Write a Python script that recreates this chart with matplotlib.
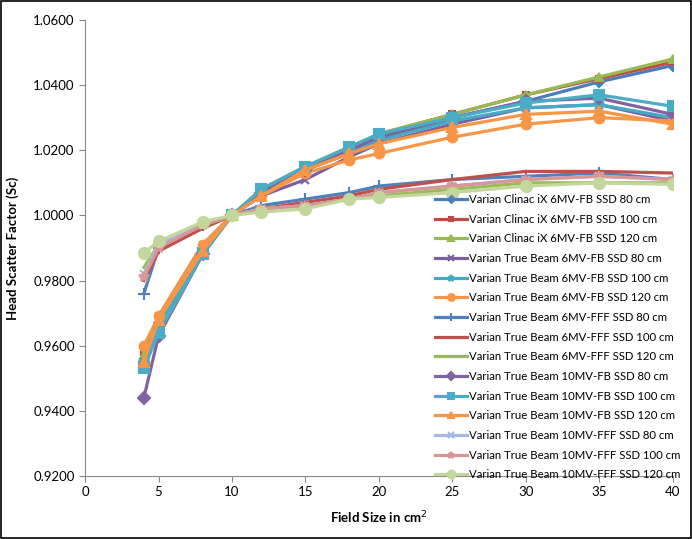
import matplotlib
matplotlib.use("Agg")
import matplotlib.pyplot as plt
from matplotlib.ticker import FormatStrFormatter, MultipleLocator

plt.rcParams['font.family'] = ['Lato', 'DejaVu Sans']

field_size = [4, 5, 8, 10, 12, 15, 18, 20, 25, 30, 35, 40]

labels = [
    "Varian Clinac iX 6MV-FB SSD 80 cm",
    "Varian Clinac iX 6MV-FB SSD 100 cm",
    "Varian Clinac iX 6MV-FB SSD 120 cm",
    "Varian True Beam 6MV-FB SSD 80 cm",
    "Varian True Beam 6MV-FB SSD 100 cm",
    "Varian True Beam 6MV-FB SSD 120 cm",
    "Varian True Beam 6MV-FFF SSD 80 cm",
    "Varian True Beam 6MV-FFF SSD 100 cm",
    "Varian True Beam 6MV-FFF SSD 120 cm",
    "Varian True Beam 10MV-FB SSD 80 cm",
    "Varian True Beam 10MV-FB SSD 100 cm",
    "Varian True Beam 10MV-FB SSD 120 cm",
    "Varian True Beam 10MV-FFF SSD 80 cm",
    "Varian True Beam 10MV-FFF SSD 100 cm",
    "Varian True Beam 10MV-FFF SSD 120 cm",
]

clinac_6fb_80 = [0.955, 0.967, 0.990, 1.000, 1.007, 1.014, 1.019, 1.023, 1.030, 1.035, 1.041, 1.046]
clinac_6fb_100 = [0.958, 0.969, 0.991, 1.000, 1.008, 1.015, 1.020, 1.025, 1.031, 1.037, 1.042, 1.047]
clinac_6fb_120 = [0.957, 0.968, 0.990, 1.000, 1.008, 1.015, 1.021, 1.025, 1.031, 1.037, 1.0425, 1.048]
tb_6fb_80 = [0.955, 0.966, 0.989, 1.000, 1.006, 1.011, 1.018, 1.022, 1.028, 1.033, 1.034, 1.029]
tb_6fb_100 = [0.955, 0.966, 0.989, 1.000, 1.007, 1.014, 1.019, 1.023, 1.029, 1.033, 1.034, 1.030]
tb_6fb_120 = [0.960, 0.969, 0.991, 1.000, 1.006, 1.013, 1.017, 1.019, 1.024, 1.028, 1.030, 1.029]
tb_6fff_80 = [0.976, 0.990, 0.997, 1.000, 1.003, 1.005, 1.007, 1.009, 1.011, 1.012, 1.013, 1.011]
tb_6fff_100 = [0.980, 0.989, 0.996, 1.000, 1.002, 1.004, 1.006, 1.008, 1.011, 1.0135, 1.0135, 1.013]
tb_6fff_120 = [0.984, 0.991, 0.997, 1.000, 1.002, 1.003, 1.005, 1.006, 1.008, 1.010, 1.010, 1.010]
tb_10fb_80 = [0.944, 0.963, 0.988, 1.000, 1.007, 1.014, 1.020, 1.024, 1.030, 1.035, 1.036, 1.031]
tb_10fb_100 = [0.953, 0.964, 0.988, 1.000, 1.008, 1.015, 1.021, 1.025, 1.030, 1.0345, 1.037, 1.0335]
tb_10fb_120 = [0.955, 0.968, 0.989, 1.000, 1.006, 1.014, 1.019, 1.022, 1.027, 1.031, 1.032, 1.028]
tb_10fff_80 = [0.982, 0.991, 0.997, 1.000, 1.002, 1.003, 1.005, 1.007, 1.009, 1.011, 1.012, 1.011]
tb_10fff_100 = [0.981, 0.990, 0.997, 1.000, 1.002, 1.003, 1.005, 1.007, 1.009, 1.011, 1.012, 1.011]
tb_10fff_120 = [0.9885, 0.992, 0.998, 1.000, 1.001, 1.002, 1.005, 1.0055, 1.007, 1.009, 1.010, 1.0095]

series = [clinac_6fb_80, clinac_6fb_100, clinac_6fb_120, tb_6fb_80, tb_6fb_100, tb_6fb_120,
          tb_6fff_80, tb_6fff_100, tb_6fff_120, tb_10fb_80, tb_10fb_100, tb_10fb_120,
          tb_10fff_80, tb_10fff_100, tb_10fff_120]

colors = ['#4A7EBB', '#BE4B48', '#98B954', '#7D60A0', '#46AAC5', '#F79646',
          '#4F81BD', '#C0504D', '#9BBB59', '#8064A2', '#4BACC6', '#F79646',
          '#A7B9E3', '#D99694', '#C3D69B']
markers = ['D', 's', '^', 'x', '*', 'o', '+', None, None, 'D', 's', '^', 'x', '*', 'o']
msizes = [5, 5, 6, 6, 7, 7, 9, 0, 0, 6, 7, 7, 6, 7, 8]

fig = plt.figure(figsize=(6.92, 5.39), dpi=100)
ax = fig.add_axes([0.123, 0.117, 0.849, 0.846])

for vals, lab, col, mk, ms in zip(series, labels, colors, markers, msizes):
    ax.plot(field_size, vals, color=col, marker=mk, markersize=ms, linewidth=2.3,
            markeredgewidth=1.5, label=lab)

ax.set_xlim(0, 40)
ax.set_ylim(0.92, 1.06)
ax.xaxis.set_major_locator(MultipleLocator(5))
ax.yaxis.set_major_locator(MultipleLocator(0.02))
ax.yaxis.set_major_formatter(FormatStrFormatter('%.4f'))

for s in ['top', 'right']:
    ax.spines[s].set_visible(False)
for s in ['left', 'bottom']:
    ax.spines[s].set_color('#888888')
ax.tick_params(colors='#888888', labelcolor='black', labelsize=9.5, length=4, direction='out')

ax.set_xlabel("Field Size in cm$^2$", fontsize=9.5, fontweight='bold', labelpad=8)
ax.set_ylabel("Head Scatter Factor (Sc)", fontsize=9.5, fontweight='bold', labelpad=10)

fig.legend(loc='upper left', bbox_to_anchor=(435 / 692, 1 - 194 / 539), frameon=False,
           fontsize=8.2, labelspacing=0.76, handlelength=2.8, handletextpad=0.15,
           borderaxespad=0, borderpad=0, markerscale=0.7)

fig.patches.append(plt.Rectangle((0.002, 0.002), 0.996, 0.996, transform=fig.transFigure,
                                 fill=False, edgecolor='black', linewidth=1.2))

fig.savefig("out.png", dpi=100)
